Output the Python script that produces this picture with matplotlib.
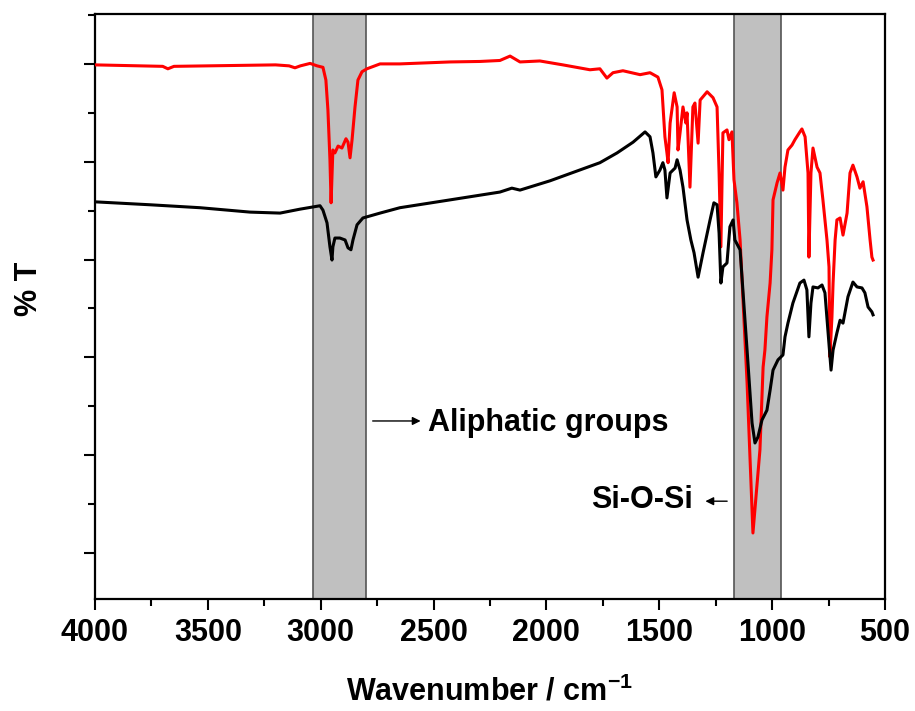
import numpy as np
import matplotlib
matplotlib.use("Agg")
import matplotlib.pyplot as plt
from matplotlib.ticker import MultipleLocator, NullFormatter

plt.rcParams['font.family'] = ['Liberation Sans', 'DejaVu Sans']
plt.rcParams['font.weight'] = 'bold'
plt.rcParams['mathtext.fontset'] = 'custom'
plt.rcParams['mathtext.rm'] = 'Liberation Sans:bold'
plt.rcParams['mathtext.bf'] = 'Liberation Sans:bold'
plt.rcParams['mathtext.default'] = 'bf'

# -------- data --------
wn_red = [4000, 3800, 3700, 3677, 3650, 3500, 3200, 3140, 3114, 3090, 3047, 3016,
          2990, 2977, 2968, 2959, 2954, 2946, 2937, 2923, 2906, 2888, 2879, 2870,
          2861, 2848, 2835, 2817, 2795, 2737, 2649, 2427, 2294, 2206, 2161, 2117,
          2029, 1927, 1807, 1763, 1732, 1705, 1661, 1585, 1541, 1506, 1488, 1475,
          1466, 1461, 1452, 1434, 1421, 1417, 1408, 1395, 1382, 1377, 1364, 1351,
          1342, 1328, 1319, 1288, 1262, 1244, 1235, 1227, 1218, 1200, 1191, 1178,
          1169, 1156, 1142, 1111, 1085, 1054, 1040, 1032, 1023, 1009, 1001, 996,
          978, 965, 952, 943, 930, 912, 899, 877, 868, 854, 841, 837, 828, 819,
          801, 788, 775, 757, 748, 744, 735, 730, 721, 713, 699, 686, 668, 655,
          642, 624, 611, 597, 580, 566, 558, 553]
t_red = [99.8, 99.6, 99.5, 99.0, 99.5, 99.6, 99.8, 99.6, 99.2, 99.6, 100.1, 99.6,
         99.3, 96.7, 90.6, 80.4, 71.6, 82.4, 81.8, 83.2, 82.8, 84.7, 84.0, 80.8,
         84.5, 91.2, 96.7, 98.4, 99.0, 100.0, 100.0, 100.4, 100.5, 100.7, 101.6, 100.4,
         100.6, 99.8, 98.8, 99.0, 97.1, 98.2, 98.6, 97.8, 98.2, 97.3, 94.7, 85.1,
         81.8, 79.8, 87.9, 94.1, 91.2, 82.4, 85.9, 91.2, 87.9, 90.0, 74.8, 91.2,
         92.0, 83.8, 92.6, 94.3, 93.1, 91.2, 77.7, 62.6, 85.9, 86.5, 84.5, 86.1,
         76.3, 71.6, 64.0, 34.8, 4.1, 21.1, 38.0, 41.5, 48.3, 55.2, 62.0, 72.2,
         75.7, 77.7, 74.2, 78.9, 82.4, 83.4, 84.5, 86.1, 86.7, 85.1, 77.7, 60.5, 77.7, 82.8,
         78.9, 77.7, 72.2, 64.0, 58.5, 40.1, 48.3, 55.2, 64.0, 68.1, 68.5, 65.0, 69.5, 77.7,
         79.3, 76.9, 74.6, 75.9, 70.8, 64.0, 60.5, 59.9]

wn_black = [4000, 3756, 3535, 3313, 3180, 3092, 3003, 2990, 2972, 2959, 2950, 2946,
            2937, 2915, 2892, 2879, 2866, 2857, 2839, 2813, 2737, 2649, 2427, 2206,
            2153, 2117, 1984, 1763, 1687, 1616, 1563, 1541, 1528, 1515, 1497, 1484,
            1475, 1466, 1452, 1439, 1430, 1421, 1408, 1395, 1377, 1360, 1346, 1328,
            1306, 1275, 1258, 1244, 1235, 1227, 1218, 1200, 1187, 1173, 1165, 1142,
            1111, 1089, 1076, 1063, 1045, 1023, 1009, 996, 974, 952, 943, 930, 908,
            877, 859, 846, 837, 828, 819, 797, 779, 766, 752, 739, 730, 713, 699,
            686, 664, 642, 624, 602, 589, 575, 558, 553]
t_black = [71.8, 71.2, 70.6, 69.7, 69.5, 70.3, 71.0, 70.1, 67.5, 62.6, 59.9, 62.6,
           64.4, 64.4, 64.0, 62.4, 62.0, 64.0, 67.1, 68.5, 69.5, 70.6, 72.2, 73.8,
           74.6, 74.2, 76.1, 79.8, 81.8, 84.0, 86.1, 85.1, 81.8, 76.9, 78.3, 79.8,
           78.3, 72.6, 77.7, 78.3, 78.7, 80.4, 78.3, 74.8, 68.1, 64.0, 61.4, 56.4,
           61.4, 68.1, 71.6, 71.2, 65.4, 55.2, 58.5, 59.3, 66.7, 68.1, 64.0, 62.0,
           41.5, 26.6, 22.5, 23.7, 27.2, 29.2, 33.3, 37.4, 39.5, 40.5, 44.2, 47.0, 51.1,
           55.2, 55.8, 53.8, 44.2, 51.1, 54.4, 54.2, 54.8, 53.2, 45.0, 37.4, 41.5, 45.0, 47.6,
           47.0, 52.4, 55.4, 54.4, 54.2, 53.2, 50.3, 49.3, 48.7]

bands = [(3035, 2800), (1170, 960)]

# -------- figure --------
fig = plt.figure(figsize=(9.15, 7.11), dpi=100)
ax = fig.add_axes([0.1038, 0.1575, 0.8634, 0.8228])

for b in bands:
    ax.axvspan(b[0], b[1], facecolor='#c0c0c0', edgecolor='#555555', linewidth=1.2, zorder=1)

ax.plot(wn_red, t_red, color='red', lw=2.2, zorder=3)
ax.plot(wn_black, t_black, color='black', lw=2.2, zorder=3)

ax.set_xlim(4000, 500)
ax.set_ylim(-9.4, 110.2)

ax.xaxis.set_major_locator(MultipleLocator(500))
ax.xaxis.set_minor_locator(MultipleLocator(250))
ax.yaxis.set_major_locator(MultipleLocator(20))
ax.yaxis.set_minor_locator(MultipleLocator(10))
ax.yaxis.set_major_formatter(NullFormatter())

ax.tick_params(axis='both', which='major', direction='out', length=8, width=1.5,
               labelsize=22, pad=6)
ax.tick_params(axis='both', which='minor', direction='out', length=5, width=1.5)
for lab in ax.get_xticklabels():
    lab.set_fontweight('bold')
for s in ax.spines.values():
    s.set_linewidth(1.6)

ax.set_xlabel('Wavenumber / cm$^{-1}$', fontsize=22, fontweight='bold', labelpad=20)
ax.set_ylabel('% T', fontsize=22, fontweight='bold')
ax.yaxis.set_label_coords(-0.064, 0.53)

# annotations
ax.annotate('', xy=(2545, 27.0), xytext=(2782, 27.0),
            arrowprops=dict(arrowstyle='-|>', color='black', lw=1, mutation_scale=12))
ax.text(2525, 26.6, 'Aliphatic groups', fontsize=22, fontweight='bold',
        ha='left', va='center')
ax.annotate('', xy=(1308, 10.6), xytext=(1187, 10.6),
            arrowprops=dict(arrowstyle='-|>', color='black', lw=1, mutation_scale=12))
ax.text(1351, 10.8, 'Si-O-Si', fontsize=22, fontweight='bold', ha='right', va='center')

fig.savefig('out.png', dpi=100)
